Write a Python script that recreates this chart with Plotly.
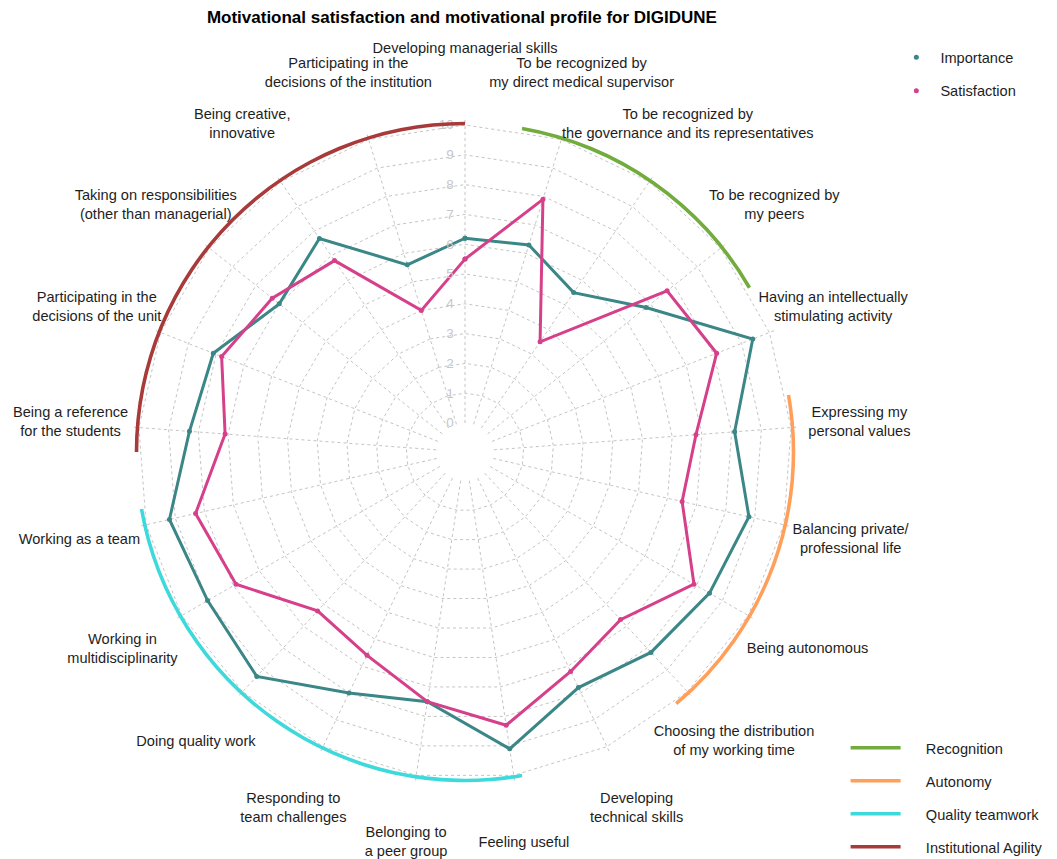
import plotly.graph_objects as go

# ---------------- data ----------------
categories = [
    "Developing managerial skills",
    "To be recognized by my direct medical supervisor",
    "To be recognized by the governance and its representatives",
    "To be recognized by my peers",
    "Having an intellectually stimulating activity",
    "Expressing my personal values",
    "Balancing private/professional life",
    "Being autonomous",
    "Choosing the distribution of my working time",
    "Developing technical skills",
    "Feeling useful",
    "Belonging to a peer group",
    "Responding to team challenges",
    "Doing quality work",
    "Working in multidisciplinarity",
    "Working as a team",
    "Being a reference for the students",
    "Participating in the decisions of the unit",
    "Taking on responsibilities (other than managerial)",
    "Being creative, innovative",
    "Participating in the decisions of the institution",
]
category_labels = [
    "Developing managerial skills",
    "To be recognized by<br>my direct medical supervisor",
    "To be recognized by<br>the governance and its representatives",
    "To be recognized by<br>my peers",
    "Having an intellectually<br>stimulating activity",
    "Expressing my<br>personal values",
    "Balancing private/<br>professional life",
    "Being autonomous",
    "Choosing the distribution<br>of my working time",
    "Developing<br>technical skills",
    "Feeling useful",
    "Belonging to<br>a peer group",
    "Responding to<br>team challenges",
    "Doing quality work",
    "Working in<br>multidisciplinarity",
    "Working as a team",
    "Being a reference<br>for the students",
    "Participating in the<br>decisions of the unit",
    "Taking on responsibilities<br>(other than managerial)",
    "Being creative,<br>innovative",
    "Participating in the<br>decisions of the institution",
]
importance = [6.2, 6.3, 5.5, 6.8, 9.4, 8.1, 8.8, 8.5, 8.2, 7.8, 9.1,
              7.5, 8.0, 9.3, 9.0, 9.2, 8.3, 8.1, 7.0, 7.7, 5.6]
satisfaction = [5.5, 7.9, 3.5, 7.7, 8.1, 6.8, 6.5, 7.9, 6.7, 7.2, 8.3,
                7.5, 6.6, 6.3, 7.9, 8.3, 7.1, 7.8, 7.3, 6.8, 4.0]

groups = ["Recognition", "Autonomy", "Quality teamwork", "Institutional Agility"]
group_start_deg = [10, 80, 170, 270]
group_end_deg = [60, 140, 260, 360]

radial_ticks = list(range(0, 11))

# ---------------- style / layout geometry ----------------
IMP_COLOR = "#3b8686"
SAT_COLOR = "#d6408a"
GROUP_COLORS = ["#72ac3c", "#ff9f5a", "#3ed9db", "#a83a3a"]
GRID = "#c4c4c4"
FONT = "Arial, Liberation Sans, sans-serif"
TXT = "#1e1e1e"
LABEL_SIZE = 14.6
W, H = 1057, 859
CX, CY = 465, 452          # polar centre in px
HOLE_PX = 29               # radius of the empty centre
PX_PER_UNIT = 29.8
R_MAX = 10.2               # main radial range
LABEL_R = 12.3             # radius of the category labels
LABEL_OUTER_PX = 405       # radius of the (invisible) label subplot
ARC_BASE = 9.99
ARC_THICK = 0.12


def polar_geometry(outer_px):
    dom = dict(x=[(CX - outer_px) / W, (CX + outer_px) / W],
               y=[(H - CY - outer_px) / H, (H - CY + outer_px) / H])
    return dom, HOLE_PX / outer_px, (outer_px - HOLE_PX) / PX_PER_UNIT


main_outer = HOLE_PX + PX_PER_UNIT * R_MAX
DOMAIN, HOLE, _ = polar_geometry(main_outer)
LDOMAIN, LHOLE, L_MAX = polar_geometry(LABEL_OUTER_PX)

theta_closed = categories + categories[:1]
imp_closed = importance + importance[:1]
sat_closed = satisfaction + satisfaction[:1]

fig = go.Figure()

# group arcs (numeric angular axis, overlay polar2)
fig.add_trace(go.Barpolar(
    theta=[(s + e) / 2 for s, e in zip(group_start_deg, group_end_deg)],
    width=[e - s for s, e in zip(group_start_deg, group_end_deg)],
    r=[ARC_THICK] * len(groups),
    base=[ARC_BASE] * len(groups),
    marker=dict(color=GROUP_COLORS, line=dict(width=0)),
    subplot="polar2", showlegend=False, hoverinfo="skip",
))
NB = "\u00a0"
for g, c in zip(groups, GROUP_COLORS):
    fig.add_trace(go.Scatterpolar(
        r=[None], theta=[None], mode="lines", name=NB * 5 + g,
        line=dict(color=c, width=3.5), subplot="polar2",
        legend="legend2", legendgroup=g,
    ))

# data series
for name, vals, col in [("Importance", imp_closed, IMP_COLOR),
                        ("Satisfaction", sat_closed, SAT_COLOR)]:
    fig.add_trace(go.Scatterpolar(
        r=vals, theta=theta_closed, mode="lines",
        line=dict(color=col, width=3), showlegend=False,
        legendgroup=name, subplot="polar", name=name,
    ))
    fig.add_trace(go.Scatterpolar(
        r=vals, theta=theta_closed, mode="markers",
        marker=dict(color=col, size=5), name=NB + name,
        legendgroup=name, subplot="polar",
    ))

# category labels (on an invisible, larger overlay polar with the same scale)
fig.add_trace(go.Scatterpolar(
    r=[LABEL_R] * len(categories), theta=categories, mode="text",
    text=category_labels,
    textposition=["top center"] + ["middle center"] * (len(categories) - 1),
    textfont=dict(size=LABEL_SIZE, color=TXT, family=FONT),
    cliponaxis=False, showlegend=False, hoverinfo="skip", subplot="polar3",
))

fig.update_layout(
    width=W, height=H,
    margin=dict(l=0, r=0, t=0, b=0, autoexpand=False),
    paper_bgcolor="white",
    font=dict(family=FONT, size=LABEL_SIZE, color=TXT),
    title=dict(text="<b>Motivational satisfaction and motivational profile for DIGIDUNE</b>",
               x=0.437, xanchor="center", y=0.98, yanchor="middle",
               font=dict(size=17, color="#000000", family=FONT)),
    polar=dict(
        domain=DOMAIN, hole=HOLE, bgcolor="white", gridshape="linear",
        angularaxis=dict(type="category", categoryarray=categories,
                         rotation=90, direction="clockwise",
                         showline=False, showticklabels=False, ticks="",
                         gridcolor=GRID, griddash="dot", gridwidth=1),
        radialaxis=dict(range=[0, R_MAX], tickvals=radial_ticks, angle=90,
                        side="counterclockwise", tickangle=90,
                        showline=False, ticks="outside", ticklen=6,
                        tickcolor="rgba(0,0,0,0)", gridcolor=GRID,
                        griddash="dot", gridwidth=1,
                        tickfont=dict(size=13.5, color="#c6c6cc")),
    ),
    polar2=dict(
        domain=DOMAIN, hole=HOLE, bgcolor="rgba(0,0,0,0)",
        angularaxis=dict(type="linear", rotation=90, direction="clockwise",
                         visible=False, showgrid=False),
        radialaxis=dict(range=[0, R_MAX], visible=False, showgrid=False),
    ),
    polar3=dict(
        domain=LDOMAIN, hole=LHOLE, bgcolor="rgba(0,0,0,0)",
        angularaxis=dict(type="category", categoryarray=categories,
                         rotation=90, direction="clockwise",
                         visible=False, showgrid=False),
        radialaxis=dict(range=[0, L_MAX], visible=False, showgrid=False),
    ),
    legend=dict(x=0.848, y=0.952, xanchor="left", yanchor="top",
                xref="container", yref="container",
                tracegroupgap=11.5, font=dict(size=LABEL_SIZE)),
    legend2=dict(x=0.80, y=0.148, xanchor="left", yanchor="top",
                 xref="container", yref="container",
                 tracegroupgap=11, itemwidth=50, font=dict(size=LABEL_SIZE)),
)

fig.write_html(
    "out.html", config={"displayModeBar": False},
    post_script=("document.body.style.margin='0';"
                 "document.body.style.overflow='hidden';"
                 "document.documentElement.style.overflow='hidden';"
                 "var d=document.getElementById('{plot_id}');"
                 "d.style.overflow='hidden';"),
)
